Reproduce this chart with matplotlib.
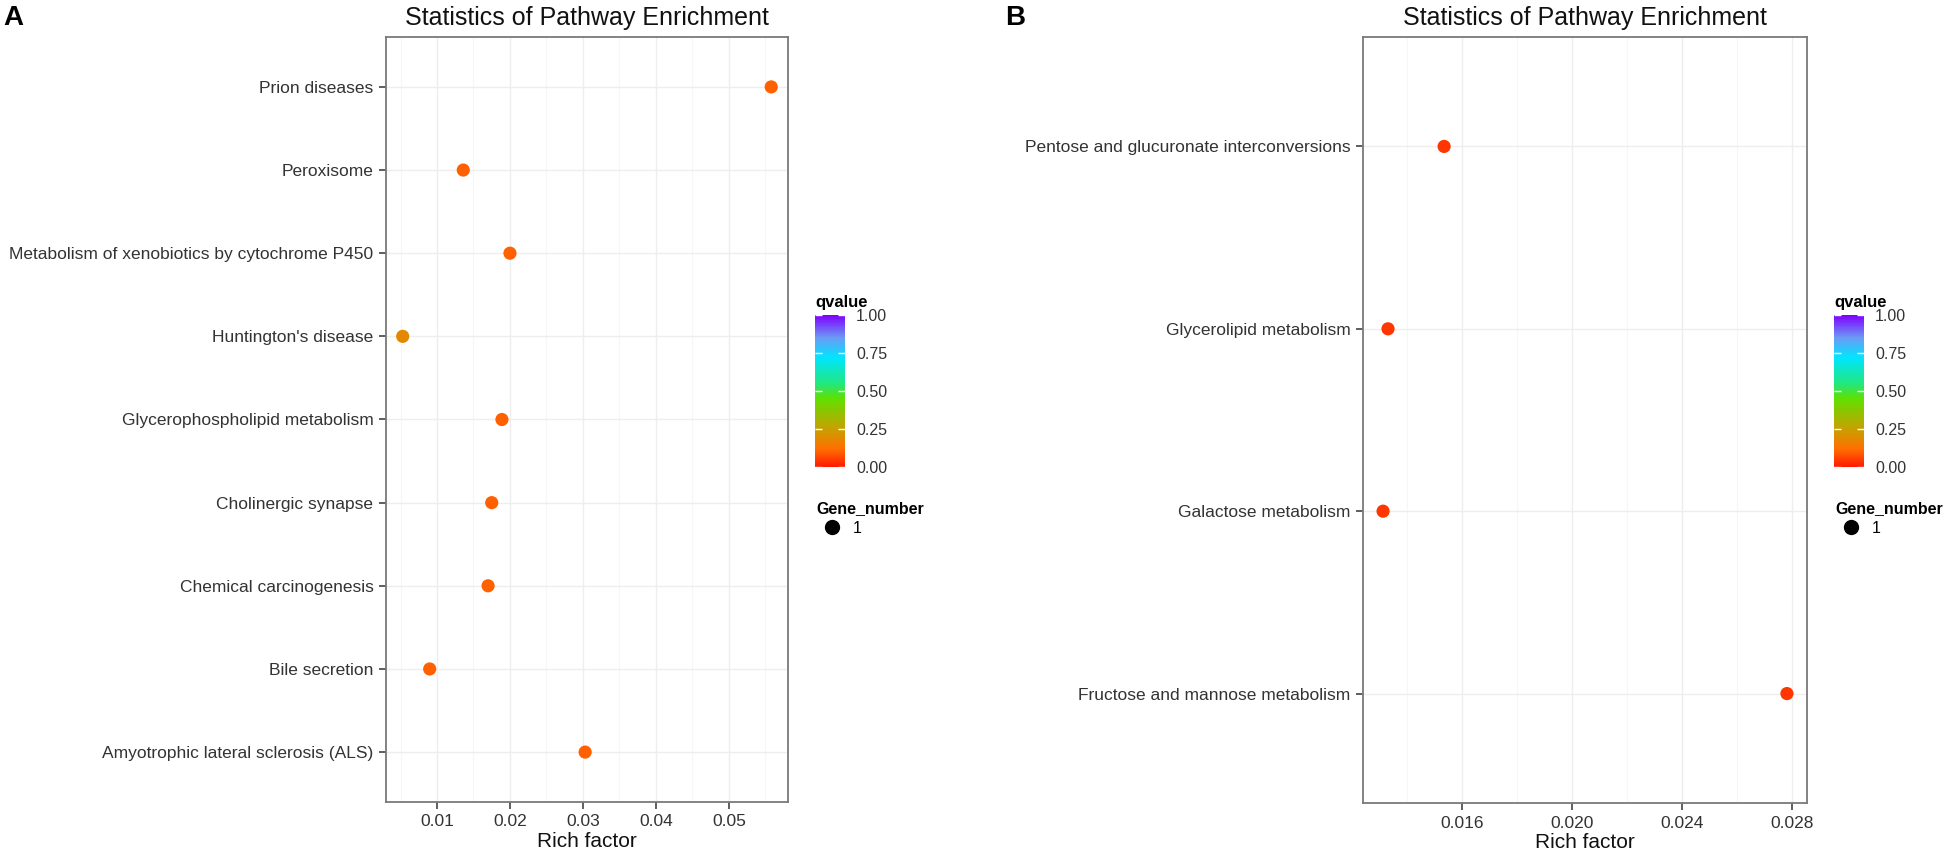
import numpy as np
import matplotlib
matplotlib.use('Agg')
import matplotlib.pyplot as plt
from matplotlib.colors import LinearSegmentedColormap, Normalize
from matplotlib.cm import ScalarMappable
from matplotlib.lines import Line2D
from matplotlib.ticker import MultipleLocator

plt.rcParams['font.family'] = ['Liberation Sans', 'DejaVu Sans']

# ---- panel A data (top to bottom) ----
pathways_a = ['Prion diseases', 'Peroxisome',
              'Metabolism of xenobiotics by cytochrome P450',
              "Huntington's disease", 'Glycerophospholipid metabolism',
              'Cholinergic synapse', 'Chemical carcinogenesis',
              'Bile secretion', 'Amyotrophic lateral sclerosis (ALS)']
rich_a = [0.0558, 0.0136, 0.0200, 0.0053, 0.0189, 0.0175, 0.0170, 0.0090, 0.0303]
qvalue_a = [0.10, 0.10, 0.10, 0.19, 0.10, 0.10, 0.10, 0.10, 0.10]
genes_a = [1, 1, 1, 1, 1, 1, 1, 1, 1]

# ---- panel B data (top to bottom) ----
pathways_b = ['Pentose and glucuronate interconversions',
              'Glycerolipid metabolism', 'Galactose metabolism',
              'Fructose and mannose metabolism']
rich_b = [0.01535, 0.01331, 0.01313, 0.02782]
qvalue_b = [0.04, 0.04, 0.04, 0.04]
genes_b = [1, 1, 1, 1]

# rainbow-like gradient used for qvalue
cmap = LinearSegmentedColormap.from_list('qv', [
    (0.00, '#FF1A00'), (0.12, '#FF7000'), (0.25, '#C8A000'),
    (0.45, '#60E000'), (0.55, '#20E880'), (0.72, '#00E5FF'),
    (0.85, '#6A9CF5'), (1.00, '#8000FF')])
norm = Normalize(0, 1)

W, H = 1950, 857
fig = plt.figure(figsize=(W / 100, H / 100), dpi=100)


def px_axes(x0, y0, x1, y1):
    return fig.add_axes([x0 / W, 1 - y1 / H, (x1 - x0) / W, (y1 - y0) / H])


def draw_panel(ax, names, rich, qv, xlim, major, minor):
    ax.scatter(rich, names, c=qv, cmap=cmap, norm=norm, s=90,
               edgecolors='none', zorder=3)
    ax.set_ylim(len(names) - 0.4, -0.6)
    ax.set_xlim(*xlim)
    ax.xaxis.set_major_locator(MultipleLocator(major))
    ax.xaxis.set_minor_locator(MultipleLocator(minor))
    ax.grid(True, which='major', color='#EEEEEE', linewidth=1.0, zorder=0)
    ax.grid(True, which='minor', axis='x', color='#F6F6F6', linewidth=0.8, zorder=0)
    ax.set_axisbelow(True)
    for sp in ax.spines.values():
        sp.set_color('#7A7A7A')
        sp.set_linewidth(1.3)
    ax.tick_params(which='major', length=5, width=1.1, color='#333333',
                   labelsize=12.5, labelcolor='#333333', pad=4)
    ax.tick_params(which='minor', length=0)
    ax.set_xlabel('Rich factor', fontsize=15, color='#111111', labelpad=2)
    ax.set_title('Statistics of Pathway Enrichment', fontsize=18,
                 color='#111111', pad=9)


def draw_legends(x0, genes):
    cax = px_axes(x0, 315, x0 + 30, 467)
    cb = fig.colorbar(ScalarMappable(norm=norm, cmap=cmap), cax=cax)
    cb.outline.set_visible(False)
    cb.set_ticks([0, 0.25, 0.5, 0.75, 1.0])
    cb.set_ticklabels(['0.00', '0.25', '0.50', '0.75', '1.00'])
    cax.tick_params(direction='in', length=5, width=1, color='white',
                    left=True, right=True, labelsize=11.5,
                    labelcolor='#333333', pad=8)
    fig.text(x0 / W, 1 - 302 / H, 'qvalue', fontsize=12, fontweight='bold',
             va='center', ha='left')
    handles = [Line2D([], [], marker='o', linestyle='none', color='black',
                      markersize=10, label=str(g))
               for g in sorted(set(genes))]
    leg = fig.legend(handles=handles, title='Gene_number', frameon=False,
                     loc='upper left',
                     bbox_to_anchor=((x0 - 10) / W, 1 - 490 / H),
                     fontsize=11.5, title_fontproperties={'weight': 'bold', 'size': 11.5},
                     handletextpad=0.3, borderpad=0.2, labelspacing=0.3)
    leg._legend_box.align = 'left'


ax_a = px_axes(386, 37, 788, 802)
draw_panel(ax_a, pathways_a, rich_a, qvalue_a, (0.00301, 0.0581), 0.01, 0.005)
draw_legends(815, genes_a)

ax_b = px_axes(1363, 37, 1807, 803)
draw_panel(ax_b, pathways_b, rich_b, qvalue_b, (0.0124, 0.02855), 0.004, 0.002)
ax_b.set_xticks([0.016, 0.020, 0.024, 0.028])
ax_b.set_xticklabels(['0.016', '0.020', '0.024', '0.028'])
draw_legends(1834, genes_b)

fig.text(3 / W, 1 - 5 / H, 'A', fontsize=20, fontweight='bold', va='top')
fig.text(1005 / W, 1 - 5 / H, 'B', fontsize=20, fontweight='bold', va='top')

fig.savefig('out.png', dpi=100, facecolor='white')
